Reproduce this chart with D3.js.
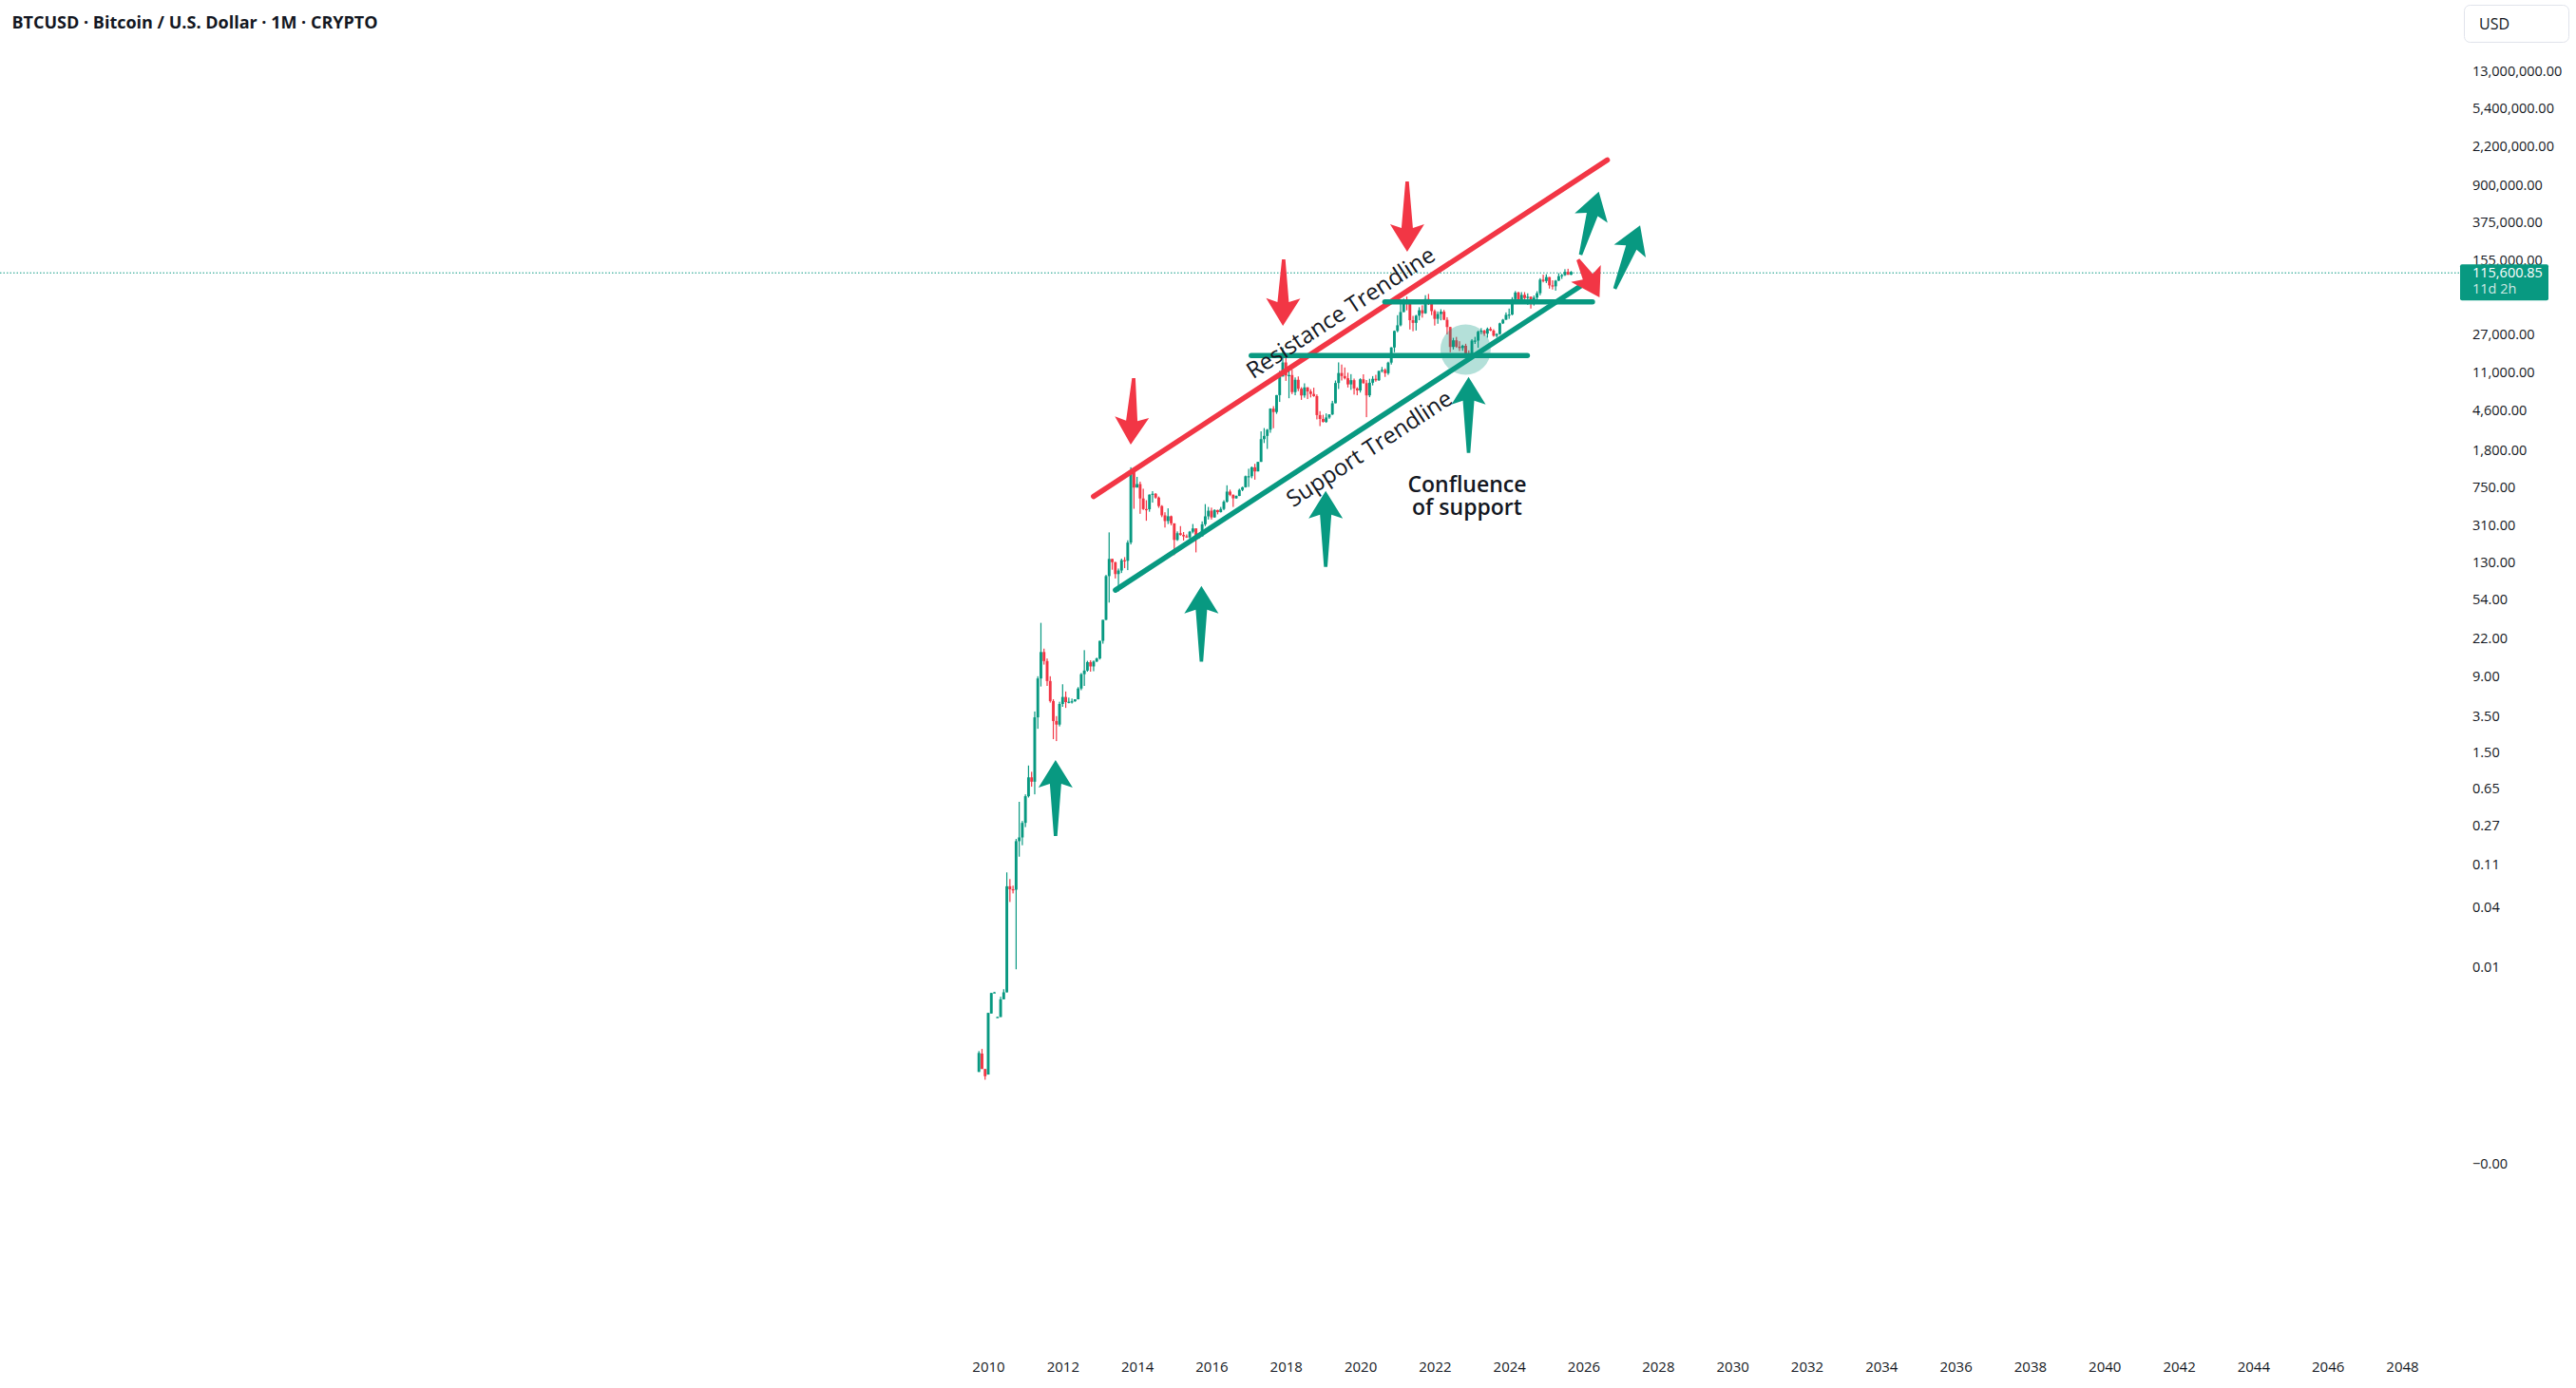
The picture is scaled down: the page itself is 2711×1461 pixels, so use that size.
<!DOCTYPE html>
<html>
<head>
<meta charset="utf-8">
<script src="https://cdn.jsdelivr.net/npm/d3@7"></script>
<style>
  html, body { margin: 0; padding: 0; background: #fff; }
  svg { display: block; font-family: "Open Sans", "Noto Sans", sans-serif; }
</style>
</head>
<body>
<svg id="chart" width="2711" height="1461"></svg>
<script>
// BTCUSD monthly candles, Oct 2009 .. Sep 2025
const months = [
  "2009-10","2009-11","2009-12",
  "2010-01","2010-02","2010-03","2010-04","2010-05","2010-06","2010-07","2010-08","2010-09","2010-10","2010-11","2010-12",
  "2011-01","2011-02","2011-03","2011-04","2011-05","2011-06","2011-07","2011-08","2011-09","2011-10","2011-11","2011-12",
  "2012-01","2012-02","2012-03","2012-04","2012-05","2012-06","2012-07","2012-08","2012-09","2012-10","2012-11","2012-12",
  "2013-01","2013-02","2013-03","2013-04","2013-05","2013-06","2013-07","2013-08","2013-09","2013-10","2013-11","2013-12",
  "2014-01","2014-02","2014-03","2014-04","2014-05","2014-06","2014-07","2014-08","2014-09","2014-10","2014-11","2014-12",
  "2015-01","2015-02","2015-03","2015-04","2015-05","2015-06","2015-07","2015-08","2015-09","2015-10","2015-11","2015-12",
  "2016-01","2016-02","2016-03","2016-04","2016-05","2016-06","2016-07","2016-08","2016-09","2016-10","2016-11","2016-12",
  "2017-01","2017-02","2017-03","2017-04","2017-05","2017-06","2017-07","2017-08","2017-09","2017-10","2017-11","2017-12",
  "2018-01","2018-02","2018-03","2018-04","2018-05","2018-06","2018-07","2018-08","2018-09","2018-10","2018-11","2018-12",
  "2019-01","2019-02","2019-03","2019-04","2019-05","2019-06","2019-07","2019-08","2019-09","2019-10","2019-11","2019-12",
  "2020-01","2020-02","2020-03","2020-04","2020-05","2020-06","2020-07","2020-08","2020-09","2020-10","2020-11","2020-12",
  "2021-01","2021-02","2021-03","2021-04","2021-05","2021-06","2021-07","2021-08","2021-09","2021-10","2021-11","2021-12",
  "2022-01","2022-02","2022-03","2022-04","2022-05","2022-06","2022-07","2022-08","2022-09","2022-10","2022-11","2022-12",
  "2023-01","2023-02","2023-03","2023-04","2023-05","2023-06","2023-07","2023-08","2023-09","2023-10","2023-11","2023-12",
  "2024-01","2024-02","2024-03","2024-04","2024-05","2024-06","2024-07","2024-08","2024-09","2024-10","2024-11","2024-12",
  "2025-01","2025-02","2025-03","2025-04","2025-05","2025-06","2025-07","2025-08","2025-09"
];

const open = [
  0.00084, 0.00129, 0.00090,
  0.00079, 0.00330, 0.00540, 0.00303, 0.00304, 0.00460, 0.00542, 0.0650, 0.0606, 0.0600, 0.187, 0.204,
  0.287, 0.536, 0.834, 0.753, 3.40, 8.45, 15.7, 12.7, 7.96, 4.98, 3.12, 2.87,
  4.65, 5.48, 4.86, 4.90, 4.95, 5.19, 6.68, 9.35, 10.17, 12.40, 11.20, 12.57,
  13.51, 20.41, 33.38, 93.03, 139.0, 128.8, 97.5, 106.0, 135.0, 133.0, 204.0, 1070,
  740, 803, 573, 447, 445, 627, 640, 585, 480, 386, 338, 378,
  320, 217, 254, 244, 236, 230, 263, 284, 230, 236, 313, 377,
  430, 368, 437, 416, 448, 531, 673, 624, 575, 608, 700, 745,
  964, 965, 1190, 1080, 1350, 2300, 2480, 2870, 4700, 4340, 6450, 9950,
  13860, 10220, 10320, 6925, 9240, 7490, 6400, 7730, 7030, 6625, 6300, 4040,
  3690, 3440, 3820, 4100, 5330, 8570, 10820, 10080, 9580, 8290, 9150, 7540,
  7200, 9350, 8530, 6410, 8620, 9450, 9140, 11350, 11650, 10780, 13800, 19700,
  28990, 33110, 45140, 58800, 57750, 37300, 35040, 41460, 47100, 43820, 61300, 56950,
  46200, 38480, 43160, 45510, 37630, 31790, 19920, 23300, 20050, 19420, 20490, 17170,
  16540, 23130, 23140, 28470, 29250, 27220, 30470, 29230, 25940, 26970, 34650, 37720,
  42280, 42580, 61180, 71300, 60650, 67500, 62700, 64600, 58970, 63330, 70200, 96400,
  93400, 102400, 84350, 82550, 94200, 104600, 107200, 115760, 108250
];

const high = [
  0.00137, 0.00144, 0.00090,
  0.00335, 0.00534, 0.00546, 0.00306, 0.00489, 0.00583, 0.0900, 0.0770, 0.0660, 0.197, 0.470, 0.300,
  0.560, 1.10, 0.950, 3.90, 8.90, 31.1, 17.0, 13.5, 8.90, 5.20, 3.50, 4.90,
  7.38, 6.23, 5.40, 5.28, 5.20, 6.90, 9.60, 16.41, 12.78, 12.95, 12.90, 13.77,
  20.41, 33.38, 95.70, 259.0, 139.5, 130.0, 111.0, 140.0, 145.0, 215.0, 1190, 1160,
  950, 850, 720, 550, 630, 680, 650, 600, 490, 415, 455, 384,
  320, 265, 300, 261, 247, 268, 315, 285, 245, 335, 502, 470,
  462, 445, 440, 470, 550, 780, 705, 630, 615, 720, 755, 980,
  1150, 1210, 1290, 1350, 2760, 2980, 2920, 4740, 4980, 6470, 11400, 19666,
  17180, 11780, 11700, 9760, 9990, 7760, 8500, 7760, 7410, 7670, 6560, 4430,
  4070, 4200, 4120, 5640, 9080, 13880, 13200, 12330, 10900, 10540, 9510, 7750,
  9570, 10500, 9180, 9460, 10070, 10380, 11440, 12470, 12050, 14100, 19860, 29300,
  41950, 58350, 61780, 64900, 59500, 41300, 42300, 50500, 52900, 67000, 69000, 59100,
  47990, 45800, 48190, 47440, 40000, 31990, 24670, 25210, 22800, 20990, 21470, 18390,
  23960, 25250, 29190, 31000, 29820, 31430, 31800, 30190, 27490, 35200, 38420, 44730,
  49000, 64000, 73800, 72800, 72000, 71950, 70000, 65100, 66500, 73600, 99800, 108300,
  109400, 102700, 95000, 95750, 111900, 110500, 123200, 124450, 117900
];

const low = [
  0.00084, 0.00090, 0.00070,
  0.00079, 0.00330, 0.00538, 0.00302, 0.00304, 0.00460, 0.00542, 0.0450, 0.0550, 0.0093, 0.130, 0.170,
  0.260, 0.520, 0.670, 0.560, 2.60, 7.00, 11.7, 7.10, 4.80, 2.04, 1.95, 2.75,
  4.35, 4.24, 4.72, 4.70, 4.90, 5.18, 6.42, 7.10, 9.90, 9.91, 10.02, 12.42,
  13.16, 19.10, 33.12, 50.0, 108.0, 88.0, 65.0, 100.0, 112.0, 107.0, 195.0, 450,
  740, 400, 438, 340, 420, 520, 570, 460, 370, 290, 315, 305,
  152, 212, 240, 214, 228, 220, 253, 162, 223, 236, 300, 350,
  350, 365, 395, 413, 435, 520, 605, 470, 570, 605, 680, 740,
  750, 920, 890, 1080, 1350, 2100, 1830, 2670, 2970, 4160, 5500, 10900,
  9000, 6000, 6600, 6430, 7080, 5770, 6070, 5880, 6110, 6200, 3650, 3120,
  3400, 3370, 3700, 4050, 5330, 7450, 9080, 9320, 7710, 7300, 6530, 6430,
  6850, 8450, 3850, 6150, 8100, 8830, 8990, 10950, 9880, 10370, 13200, 17600,
  28130, 32300, 45000, 47000, 30000, 28800, 29300, 37300, 39600, 43300, 53250, 42000,
  32900, 34300, 37200, 37600, 26700, 17600, 18780, 19540, 18130, 18190, 15480, 16260,
  16500, 21400, 19550, 26940, 25810, 24780, 28860, 25330, 24900, 26540, 34100, 37600,
  38500, 41880, 59000, 59200, 56500, 58400, 53500, 49000, 52550, 58900, 66800, 90500,
  89200, 78200, 76600, 74500, 93400, 98200, 105100, 108000, 107300
];

const close = [
  0.00131, 0.00090, 0.00076,
  0.00335, 0.00534, 0.00542, 0.00304, 0.00460, 0.00542, 0.0650, 0.0606, 0.0600, 0.187, 0.204, 0.287,
  0.536, 0.834, 0.753, 3.40, 8.45, 15.7, 12.7, 7.96, 4.98, 3.12, 2.87, 4.65,
  5.48, 4.86, 4.90, 4.95, 5.19, 6.68, 9.35, 10.17, 12.40, 11.20, 12.57, 13.51,
  20.41, 33.38, 93.03, 139.0, 128.8, 97.5, 106.0, 135.0, 133.0, 204.0, 1070, 740,
  803, 573, 447, 445, 627, 640, 585, 480, 386, 338, 378, 320,
  217, 254, 244, 236, 230, 263, 284, 230, 236, 313, 377, 430,
  368, 437, 416, 448, 531, 673, 624, 575, 608, 700, 745, 964,
  965, 1190, 1080, 1350, 2300, 2480, 2870, 4700, 4340, 6450, 9950, 13860,
  10220, 10320, 6925, 9240, 7490, 6400, 7730, 7030, 6625, 6300, 4040, 3690,
  3440, 3820, 4100, 5330, 8570, 10820, 10080, 9580, 8290, 9150, 7540, 7200,
  9350, 8530, 6410, 8620, 9450, 9140, 11350, 11650, 10780, 13800, 19700, 28990,
  33110, 45140, 58800, 57750, 37300, 35040, 41460, 47100, 43820, 61300, 56950, 46200,
  38480, 43160, 45510, 37630, 31790, 19920, 23300, 20050, 19420, 20490, 17170, 16540,
  23130, 23140, 28470, 29250, 27220, 30470, 29230, 25940, 26970, 34650, 37720, 42280,
  42580, 61180, 71300, 60650, 67500, 62700, 64600, 58970, 63330, 70200, 96400, 93400,
  102400, 84350, 82550, 94200, 104600, 107200, 115760, 108250, 115600.85
];

const yearTicks = [2010, 2012, 2014, 2016, 2018, 2020, 2022, 2024, 2026, 2028, 2030, 2032,
  2034, 2036, 2038, 2040, 2042, 2044, 2046, 2048];
const priceTicks = [13000000, 5400000, 2200000, 900000, 375000, 155000, 27000, 11000,
  4600, 1800, 750, 310, 130, 54, 22, 9, 3.5, 1.5, 0.65, 0.27, 0.11, 0.04, 0.01, 0.0001];
const priceTickLabels = ["13,000,000.00", "5,400,000.00", "2,200,000.00", "900,000.00",
  "375,000.00", "155,000.00", "27,000.00", "11,000.00", "4,600.00", "1,800.00",
  "750.00", "310.00", "130.00", "54.00", "22.00", "9.00", "3.50", "1.50", "0.65", "0.27",
  "0.11", "0.04", "0.01", "\u22120.00"];

const title = "BTCUSD · Bitcoin / U.S. Dollar · 1M · CRYPTO";
const currency = "USD";
const lastPrice = 115600.85;
const lastPriceLabel = "115,600.85";
const countdown = "11d 2h";

// drawings, anchored as [time in years, price]
const resistanceLine = [[2012.83, 600], [2026.64, 1590000]];
const supportLine = [[2013.42, 67], [2026.04, 89000]];
const levelLines = [
  [[2020.66, 57400], [2026.24, 57400]],
  [[2017.07, 16280], [2024.49, 16280]]
];
const confluencePoint = [2022.83, 18730];
// arrows: [tail, tip]
const redArrows = [
  [[2013.91, 9600], [2013.83, 2020]],
  [[2017.94, 155000], [2017.92, 32700]],
  [[2021.26, 962000], [2021.26, 185000]],
  [[2025.85, 155000], [2026.43, 63700]]
];
const greenArrows = [
  [[2011.81, 0.211], [2011.81, 1.25]],
  [[2015.73, 12.5], [2015.73, 73.9]],
  [[2019.07, 115], [2019.07, 684]],
  [[2022.91, 1667], [2022.91, 9890]],
  [[2025.92, 172000], [2026.41, 758000]],
  [[2026.84, 77800], [2027.52, 343000]]
];
const resistanceLabel = {text: "Resistance Trendline", at: [2019.47, 44600]};
const supportLabel = {text: "Support Trendline", at: [2020.24, 1850]};
const confluenceLabel = {lines: ["Confluence", "of support"], at: [2022.87, 795]};

const UP = "#089981", DOWN = "#f23645", INK = "#131722";

const svg = d3.select("#chart");
svg.append("rect").attr("width", 2711).attr("height", 1461).attr("fill", "#fff");

const x = d3.scaleLinear().domain([2010, 2048]).range([1040, 2528]);
const y = d3.scaleLog().domain([13000000, 0.01]).range([74, 1017]);

const monthTime = m => +m.slice(0, 4) + (+m.slice(5, 7) - 1) / 12;
const px = p => [x(p[0]), y(p[1])];

const candles = months.map((m, i) => ({t: monthTime(m), o: open[i], h: high[i], l: low[i], c: close[i]}));

// last price dotted line
const lastY = y(lastPrice);
svg.append("line")
  .attr("x1", 0).attr("x2", 2589)
  .attr("y1", lastY + 1).attr("y2", lastY + 1)
  .attr("stroke", UP).attr("stroke-width", 1)
  .attr("stroke-dasharray", "1.5,2");

// candles
const cg = svg.append("g");
const bodyW = 2.9;
cg.selectAll(".wick").data(candles).enter().append("rect")
  .attr("x", d => x(d.t) - 0.6)
  .attr("width", 1.2)
  .attr("y", d => y(d.h))
  .attr("height", d => Math.max(1, y(d.l) - y(d.h)))
  .attr("fill", d => d.c >= d.o ? UP : DOWN);
cg.selectAll(".body").data(candles).enter().append("rect")
  .attr("x", d => x(d.t) - bodyW / 2)
  .attr("width", bodyW)
  .attr("y", d => y(Math.max(d.o, d.c)))
  .attr("height", d => Math.max(1.2, Math.abs(y(d.o) - y(d.c))))
  .attr("fill", d => d.c >= d.o ? UP : DOWN);

// drawings
const dg = svg.append("g");
const segment = (pts, color, w) => dg.append("line")
  .attr("x1", px(pts[0])[0]).attr("y1", px(pts[0])[1])
  .attr("x2", px(pts[1])[0]).attr("y2", px(pts[1])[1])
  .attr("stroke", color).attr("stroke-width", w).attr("stroke-linecap", "round");

dg.append("circle")
  .attr("cx", px(confluencePoint)[0]).attr("cy", px(confluencePoint)[1])
  .attr("r", 26.5).attr("fill", UP).attr("fill-opacity", 0.3);

segment(resistanceLine, DOWN, 5.5);
segment(supportLine, UP, 5.5);
levelLines.forEach(l => segment(l, UP, 5.5));

function arrowPath(arrow) {
  const [x0, y0] = px(arrow[0]), [x1, y1] = px(arrow[1]);
  const L = Math.hypot(x1 - x0, y1 - y0);
  const ux = (x1 - x0) / L, uy = (y1 - y0) / L;
  const pt = (a, b) => [x0 + ux * a - uy * b, y0 + uy * a + ux * b];
  const pts = [pt(L, 0), pt(L - 29, 18), pt(L - 25, 6), pt(0, 1.8),
               pt(0, -1.8), pt(L - 25, -6), pt(L - 29, -18)];
  return d3.line()(pts) + "Z";
}
dg.selectAll(".red-arrow").data(redArrows).enter().append("path")
  .attr("d", arrowPath).attr("fill", DOWN);
dg.selectAll(".green-arrow").data(greenArrows).enter().append("path")
  .attr("d", arrowPath).attr("fill", UP);

// labels
const lineAngle = pts => {
  const a = px(pts[0]), b = px(pts[1]);
  return Math.atan2(b[1] - a[1], b[0] - a[0]) * 180 / Math.PI;
};
[[resistanceLabel, resistanceLine], [supportLabel, supportLine]].forEach(([lab, line]) => {
  const [tx, ty] = px(lab.at);
  dg.append("text")
    .attr("transform", `translate(${tx},${ty}) rotate(${lineAngle(line)})`)
    .attr("text-anchor", "middle").attr("dy", "0.35em")
    .attr("font-size", 24).attr("font-weight", 500).attr("fill", INK)
    .text(lab.text);
});
{
  const [tx, ty] = px(confluenceLabel.at);
  const t = dg.append("text")
    .attr("x", tx).attr("y", ty)
    .attr("text-anchor", "middle").attr("font-size", 23).attr("font-weight", 600)
    .attr("fill", INK);
  confluenceLabel.lines.forEach((s, i) => t.append("tspan")
    .attr("x", tx).attr("dy", i === 0 ? "0.35em" : 24).text(s));
}

// axes
const yAxis = svg.append("g")
  .attr("transform", "translate(2602,0)")
  .call(d3.axisRight(y).tickValues(priceTicks)
    .tickFormat((d, i) => priceTickLabels[i]).tickSize(0).tickPadding(0));
yAxis.select(".domain").remove();
yAxis.selectAll("text")
  .attr("x", 0).attr("dy", "0.35em")
  .attr("font-family", "'Open Sans', sans-serif").attr("font-size", 14.5)
  .attr("fill", INK);

const xAxis = svg.append("g")
  .attr("transform", "translate(0,1439)")
  .call(d3.axisBottom(x).tickValues(yearTicks).tickFormat(d3.format("d"))
    .tickSize(0).tickPadding(0));
xAxis.select(".domain").remove();
xAxis.selectAll("text")
  .attr("y", 0).attr("dy", "0.35em")
  .attr("font-family", "'Open Sans', sans-serif").attr("font-size", 15)
  .attr("fill", INK);

// last price badge
const badge = svg.append("g");
badge.append("rect")
  .attr("x", 2589).attr("y", lastY - 8).attr("width", 93).attr("height", 38)
  .attr("rx", 2).attr("fill", UP);
badge.append("text")
  .attr("x", 2602).attr("y", lastY + 0.5).attr("dy", "0.35em")
  .attr("font-size", 14.5).attr("fill", "#fff").text(lastPriceLabel);
badge.append("text")
  .attr("x", 2602).attr("y", lastY + 18).attr("dy", "0.35em")
  .attr("font-size", 14.5).attr("fill", "#fff").attr("fill-opacity", 0.8).text(countdown);

// currency box
svg.append("rect")
  .attr("x", 2593.5).attr("y", 5.5).attr("width", 110).attr("height", 39).attr("rx", 6)
  .attr("fill", "#fff").attr("stroke", "#e0e3eb");
svg.append("text")
  .attr("x", 2609).attr("y", 25).attr("dy", "0.35em")
  .attr("font-size", 16).attr("fill", INK).text(currency);

// title
svg.append("text")
  .attr("x", 12.5).attr("y", 30)
  .attr("font-size", 18).attr("font-weight", 700).attr("fill", INK)
  .text(title);
</script>
</body>
</html>
